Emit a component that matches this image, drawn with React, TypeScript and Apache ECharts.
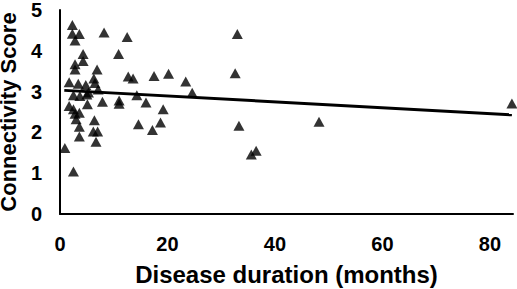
import React, { useEffect, useRef } from "react";
import * as echarts from "echarts";

const durationMonths: number[] = [
  2.3, 2.3, 3.6, 2.8, 8.2, 12.5, 4.3, 10.9, 4.3, 2.8, 2.8, 6.9, 12.7, 13.6, 17.5, 20.2,
  23.4, 6.3, 6.5, 1.7, 3.4, 4.8, 7.1, 24.6, 2.5, 3.7, 5.0, 14.3, 7.9, 11.0, 11.0, 5.1,
  16.0, 1.7, 2.5, 3.6, 2.8, 3.0, 19.2, 6.4, 3.6, 14.6, 18.7, 6.2, 7.0, 17.2, 3.6, 6.7,
  0.9, 2.5, 33.0, 32.6, 33.3, 48.2, 36.5, 35.6, 84.1, 5.3,
];
const connectivityScore: number[] = [
  4.63, 4.42, 4.41, 4.25, 4.45, 4.34, 3.92, 3.92, 3.75, 3.67, 3.54, 3.54, 3.37, 3.32, 3.38, 3.44,
  3.25, 3.32, 3.21, 3.23, 3.19, 3.16, 3.05, 2.97, 2.91, 2.89, 2.93, 2.91, 2.75, 2.78, 2.7, 2.69,
  2.73, 2.65, 2.57, 2.48, 2.46, 2.32, 2.57, 2.3, 2.14, 2.2, 2.24, 2.02, 2.02, 2.06, 1.9, 1.77,
  1.62, 1.04, 4.41, 3.45, 2.16, 2.26, 1.55, 1.46, 2.71, 2.98,
];
const trendX: number[] = [0.8, 84.1];
const trendY: number[] = [3.03, 2.43];

const xTicks = { min: 0, max: 84.3, interval: 20 };
const yTicks = { min: 0, max: 5, interval: 1 };

export default function App() {
  const ref = useRef<HTMLDivElement>(null);
  useEffect(() => {
    if (!ref.current) return;
    const chart = echarts.init(ref.current, null, { renderer: "svg" });
    const font = "'Liberation Sans', Arial, sans-serif";
    chart.setOption({
      animation: false,
      backgroundColor: "#ffffff",
      grid: { left: 60, right: 4, top: 10, bottom: 75, containLabel: false, outerBoundsMode: "none" },
      xAxis: {
        type: "value",
        min: xTicks.min,
        max: xTicks.max,
        interval: xTicks.interval,
        name: "Disease duration (months)",
        nameLocation: "middle",
        nameGap: 48,
        nameTextStyle: { fontFamily: font, fontWeight: "bold", fontSize: 24, color: "#000" },
        axisLine: { show: true, lineStyle: { color: "#000", width: 2 } },
        axisTick: { show: false },
        splitLine: { show: false },
        axisLabel: {
          fontFamily: font, fontWeight: "bold", fontSize: 20, color: "#000", margin: 20,
          showMaxLabel: false,
          formatter: (v: number) => (v % 20 === 0 ? String(v) : ""),
        },
      },
      yAxis: {
        type: "value",
        min: yTicks.min,
        max: yTicks.max,
        interval: yTicks.interval,
        name: "Connectivity Score",
        nameLocation: "middle",
        nameGap: 36,
        nameTextStyle: {
          fontFamily: font, fontWeight: "bold", fontSize: 22, lineHeight: 22, color: "#000",
        },
        axisLine: { show: true, lineStyle: { color: "#000", width: 2 } },
        axisTick: { show: false },
        splitLine: { show: false },
        axisLabel: { fontFamily: font, fontWeight: "bold", fontSize: 20, color: "#000", margin: 18 },
      },
      series: [
        {
          type: "line",
          data: trendX.map((x, i) => [x, trendY[i]]),
          symbol: "none",
          lineStyle: { color: "#000", width: 3 },
          silent: true,
          z: 1,
        },
        {
          type: "scatter",
          data: durationMonths.map((x, i) => [x, connectivityScore[i]]),
          symbol: "triangle",
          symbolSize: [11, 10],
          itemStyle: { color: "#000" },
          z: 2,
        },
      ],
    });
    return () => chart.dispose();
  }, []);
  return (
    <div
      ref={ref}
      style={{ position: "fixed", left: 0, top: 0, width: 517, height: 289, background: "#fff" }}
    />
  );
}
